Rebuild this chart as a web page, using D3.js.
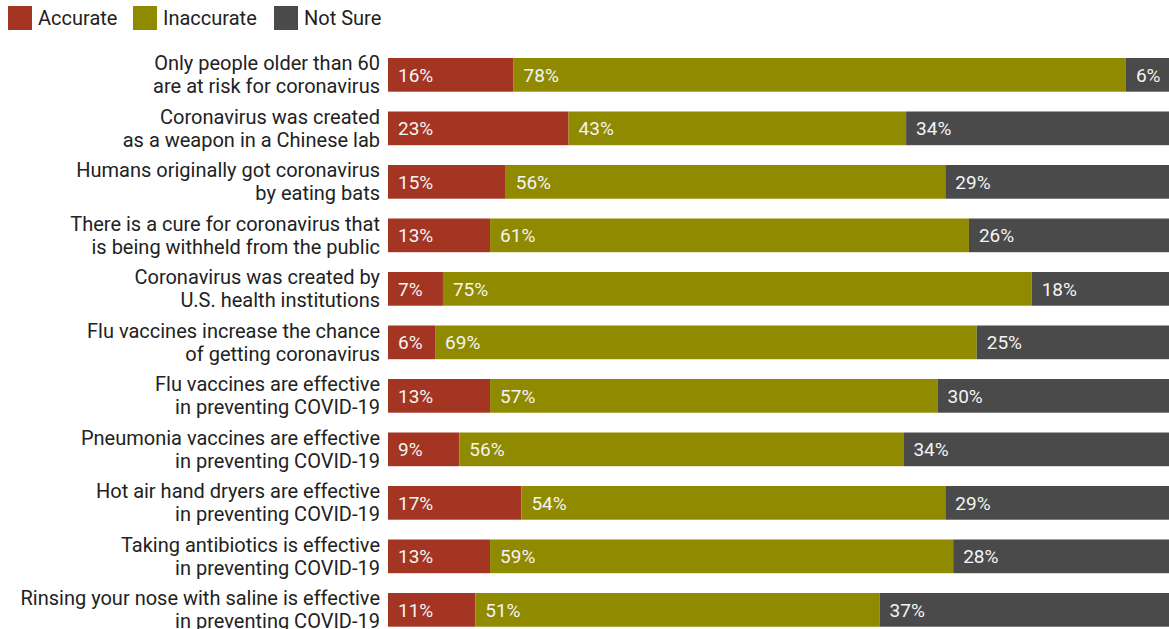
<!DOCTYPE html>
<html>
<head>
<meta charset="utf-8">
<script src="https://cdn.jsdelivr.net/npm/d3@7"></script>
<style>
  body { margin: 0; background: #fff; }
  svg { font-family: Roboto, "Noto Sans", sans-serif; }
</style>
</head>
<body>
<div id="chart"></div>
<script>
const statements = [
  ["Only people older than 60", "are at risk for coronavirus"],
  ["Coronavirus was created", "as a weapon in a Chinese lab"],
  ["Humans originally got coronavirus", "by eating bats"],
  ["There is a cure for coronavirus that", "is being withheld from the public"],
  ["Coronavirus was created by", "U.S. health institutions"],
  ["Flu vaccines increase the chance", "of getting coronavirus"],
  ["Flu vaccines are effective", "in preventing COVID-19"],
  ["Pneumonia vaccines are effective", "in preventing COVID-19"],
  ["Hot air hand dryers are effective", "in preventing COVID-19"],
  ["Taking antibiotics is effective", "in preventing COVID-19"],
  ["Rinsing your nose with saline is effective", "in preventing COVID-19"]
];
const accurate   = [16, 23, 15, 13, 7, 6, 13, 9, 17, 13, 11];
const inaccurate = [78, 43, 56, 61, 75, 69, 57, 56, 54, 59, 51];
const notSure    = [6, 34, 29, 26, 18, 25, 30, 34, 29, 28, 37];
const seriesNames = ["Accurate", "Inaccurate", "Not Sure"];
const colors = ["#a33522", "#8f8a00", "#4a4a4a"];

const width = 1169, height = 629;
const margin = { top: 58, left: 388, right: -4 };
const step = 53.5, pad = 0.37;

const rows = statements.map((s, i) => ({
  idx: i, Accurate: accurate[i], Inaccurate: inaccurate[i], "Not Sure": notSure[i]
}));

const stack = d3.stack().keys(seriesNames).offset(d3.stackOffsetExpand);
const layers = stack(rows);

const x = d3.scaleLinear().domain([0, 1]).range([margin.left, width - margin.right]);
const y = d3.scaleBand()
  .domain(d3.range(statements.length))
  .range([margin.top, margin.top + step * (statements.length - pad)])
  .paddingInner(pad)
  .paddingOuter(0);

const color = d3.scaleOrdinal().domain(seriesNames).range(colors);

const svg = d3.select("#chart").append("svg")
  .attr("width", width).attr("height", height);

// legend
const legend = svg.append("g").attr("class", "legend");
const legendX = [8, 133, 274];
seriesNames.forEach((name, i) => {
  const g = legend.append("g").attr("transform", `translate(${legendX[i]},6)`);
  g.append("rect").attr("width", 24).attr("height", 24).attr("fill", colors[i]);
  g.append("text").attr("x", 30).attr("y", 19)
    .attr("font-size", 20).attr("fill", "#222").text(name);
});

// bars
const groups = svg.append("g").selectAll("g")
  .data(layers).join("g")
  .attr("fill", d => color(d.key));

groups.selectAll("rect")
  .data(d => d)
  .join("rect")
  .attr("x", d => x(d[0]))
  .attr("y", (d, i) => y(i))
  .attr("width", d => x(d[1]) - x(d[0]))
  .attr("height", y.bandwidth());

// value labels
const labels = svg.append("g");
layers.forEach(layer => {
  labels.selectAll(null)
    .data(layer).join("text")
    .attr("x", d => x(d[0]) + 10)
    .attr("y", (d, i) => y(i) + y.bandwidth() / 2)
    .attr("dy", "0.35em")
    .attr("font-size", 19)
    .attr("fill", "#f4f4f4")
    .text(d => d.data[layer.key] + "%");
});

// row labels
const rowLabels = svg.append("g").selectAll("text")
  .data(statements).join("text")
  .attr("text-anchor", "end")
  .attr("font-size", 20)
  .attr("fill", "#222")
  .attr("transform", (d, i) => `translate(380,${y(i) + y.bandwidth() / 2})`);

rowLabels.selectAll("tspan")
  .data(d => d).join("tspan")
  .attr("x", 0)
  .attr("y", (d, i) => i === 0 ? -11.5 : 11.5)
  .attr("dy", "0.35em")
  .text(d => d);
</script>
</body>
</html>
